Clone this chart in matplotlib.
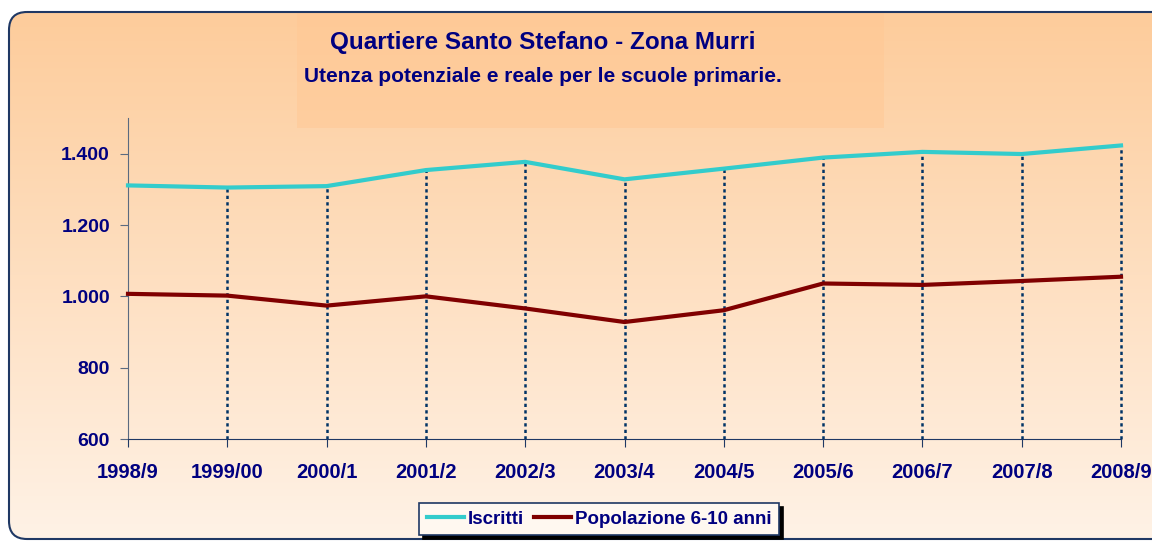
import matplotlib.pyplot as plt
import numpy as np
from matplotlib.patches import FancyBboxPatch, Rectangle

plt.rcParams["font.family"] = ["Liberation Sans", "DejaVu Sans"]
plt.rcParams["font.weight"] = "bold"

# data
years = ["1998/9", "1999/00", "2000/1", "2001/2", "2002/3", "2003/4",
         "2004/5", "2005/6", "2006/7", "2007/8", "2008/9"]
iscritti = [1311, 1305, 1309, 1354, 1377, 1328, 1358, 1389, 1405, 1399, 1423]
popolazione = [1007, 1002, 974, 1000, 966, 928, 961, 1036, 1032, 1043, 1055]
y_ticks = [600, 800, 1000, 1200, 1400]
y_labels = ["600", "800", "1.000", "1.200", "1.400"]

navy = "#000080"
border = "#1F3864"

fig = plt.figure(figsize=(11.52, 5.42), dpi=100)

# background panel with gradient and rounded border
bg = fig.add_axes([0, 0, 1, 1])
bg.set_xlim(0, 1152)
bg.set_ylim(542, 0)
bg.axis("off")
top = np.array([253, 204, 155]) / 255
bot = np.array([255, 242, 230]) / 255
t = np.linspace(0, 1, 256)[:, None, None]
grad = top * (1 - t) + bot * t
grad = np.repeat(grad, 2, axis=1)
panel = FancyBboxPatch((9, 12), 1170, 527, boxstyle="round,pad=0,rounding_size=18",
                       facecolor="none", edgecolor=border, lw=1.5, zorder=3)
bg.add_patch(panel)
im = bg.imshow(grad, extent=(9, 1179, 539, 12), aspect="auto", zorder=1)
im.set_clip_path(panel)
bg.add_patch(Rectangle((297, 13), 587, 115, facecolor="#FFC894", alpha=0.5,
                       edgecolor="none", zorder=2))
bg.text(543, 43, "Quartiere Santo Stefano - Zona Murri", ha="center", va="center",
        fontsize=17.5, color=navy, fontweight="bold", zorder=4)
bg.text(543, 77, "Utenza potenziale e reale per le scuole primarie.", ha="center",
        va="center", fontsize=15, color=navy, fontweight="bold", zorder=4)

# chart
ax = fig.add_axes([128 / 1152, 1 - 439 / 542, (1121 - 128) / 1152, (439 - 118) / 542])
ax.patch.set_alpha(0)
x = np.arange(len(years))
# drop lines (none at the first category, it sits on the y axis)
ax.vlines(x[1:], 600, iscritti[1:], colors="#003366", linestyles=(0, (1.3, 1.3)),
          lw=1.8, zorder=1, clip_on=False)
ax.plot(x, iscritti, color="#33CCCC", lw=3, label="Iscritti", zorder=3, clip_on=False)
ax.plot(x, popolazione, color="#800000", lw=3, label="Popolazione 6-10 anni", zorder=3,
        clip_on=False)
ax.set_xlim(0, len(years) - 1)
ax.set_ylim(600, 1500)
ax.set_xticks(x)
ax.set_xticklabels(years)
ax.set_yticks(y_ticks)
ax.set_yticklabels(y_labels)
for s in ["top", "right"]:
    ax.spines[s].set_visible(False)
ax.spines["left"].set_color("#5A6A80")
ax.spines["bottom"].set_color(border)
ax.tick_params(axis="y", length=6, pad=7, colors="#5A6A80", labelcolor=navy, labelsize=14)
ax.tick_params(axis="x", length=6, pad=11, colors=border, labelcolor=navy, labelsize=14.5)

leg = fig.legend(loc="center", bbox_to_anchor=(599 / 1152, 1 - 519 / 542), ncol=2,
                 frameon=True, fancybox=False,
                 shadow={"ox": 3, "oy": -3, "color": "black", "alpha": 1},
                 fontsize=13.5, handlelength=2.0, handletextpad=0.2, columnspacing=0.5,
                 borderpad=0.4, borderaxespad=0, labelcolor=navy)
leg.get_frame().set_edgecolor(border)
leg.get_frame().set_facecolor("#FFF8F0")
leg.get_frame().set_linewidth(1.2)

fig.savefig("out.png", dpi=100)
